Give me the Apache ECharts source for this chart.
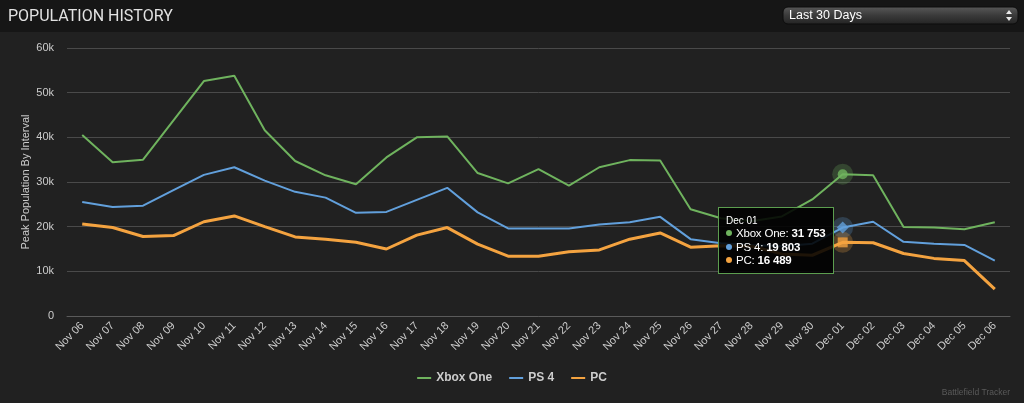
<!DOCTYPE html>
<html>
<head>
<meta charset="utf-8">
<script src="https://cdn.jsdelivr.net/npm/echarts@6/dist/echarts.min.js"></script>
<style>
html,body{margin:0;padding:0;background:#212121;}
#chart{width:1024px;height:403px;}
</style>
</head>
<body>
<div id="chart"></div>
<script>
const categories = ['Nov 06','Nov 07','Nov 08','Nov 09','Nov 10','Nov 11','Nov 12','Nov 13','Nov 14','Nov 15','Nov 16','Nov 17','Nov 18','Nov 19','Nov 20','Nov 21','Nov 22','Nov 23','Nov 24','Nov 25','Nov 26','Nov 27','Nov 28','Nov 29','Nov 30','Dec 01','Dec 02','Dec 03','Dec 04','Dec 05','Dec 06'];
const xboxOne = [40500,34400,35000,43800,52600,53800,41600,34700,31500,29500,35500,40000,40200,32000,29700,32900,29200,33300,34900,34800,23900,21900,21200,22300,26100,31753,31500,19900,19800,19400,21000];
const ps4 = [25500,24400,24700,28200,31600,33300,30300,27800,26500,23100,23300,26000,28700,23200,19600,19600,19600,20500,21000,22200,17200,16300,15900,15600,16200,19803,21100,16600,16200,15900,12400];
const pc = [20600,19800,17800,18000,21100,22400,20000,17700,17200,16500,15000,18100,19800,16100,13400,13400,14400,14800,17200,18600,15400,15700,15600,13900,13600,16489,16400,14000,12900,12400,6000];
const yTicks = [0,10000,20000,30000,40000,50000,60000];
const seriesNames = ['Xbox One','PS 4','PC'];
const colors = ['#6fb35e','#62a0dc','#f4a340'];
const halos = ['rgba(111,179,94,0.3)','rgba(98,160,220,0.3)','rgba(244,163,64,0.3)'];
const hoverIndex = 25;

const font = '"Liberation Sans", Arial, sans-serif';
const fmt = v => String(v).replace(/\B(?=(\d{3})+(?!\d))/g, ' ');

const chart = echarts.init(document.getElementById('chart'));
const allData = [xboxOne, ps4, pc];
const hoverSymbols = ['circle','diamond','rect'];
const hoverSizes = [10,12,10];

const series = [];
allData.forEach((d,i)=>{
  series.push({
    name: seriesNames[i], type:'line', data:d, symbol:'none',
    lineStyle:{color:colors[i], width: i===2?3:2}, itemStyle:{color:colors[i]},
    emphasis:{disabled:true}, z:2
  });
});
allData.forEach((d,i)=>{
  series.push({
    type:'scatter', data:[[categories[hoverIndex], d[hoverIndex]]],
    symbol:'circle', symbolSize:21, itemStyle:{color:halos[i]}, silent:true, z:3,
    emphasis:{disabled:true}, tooltip:{show:false}
  });
  series.push({
    type:'scatter', data:[[categories[hoverIndex], d[hoverIndex]]],
    symbol:hoverSymbols[i], symbolSize:hoverSizes[i], itemStyle:{color:colors[i]}, silent:true, z:4,
    emphasis:{disabled:true}, tooltip:{show:false}
  });
});

chart.setOption({
  animation:false,
  backgroundColor:'#212121',
  textStyle:{fontFamily:font},
  title:{text:'POPULATION HISTORY', left:3, top:4, textStyle:{color:'#e2e2e2', fontSize:16, fontWeight:'normal', fontFamily:'Roboto, "Liberation Sans", sans-serif'}},
  graphic:[
    {type:'rect', z:-1, shape:{x:0,y:0,width:1024,height:32}, style:{fill:'#161616'}},
    {type:'rect', shape:{x:783,y:7,width:235,height:17,r:5}, style:{fill:new echarts.graphic.LinearGradient(0,0,0,1,[{offset:0,color:'#5a5a5a'},{offset:0.5,color:'#3a3a3a'},{offset:1,color:'#232323'}]), stroke:'#0c0c0c', lineWidth:1}},
    {type:'text', left:789, top:9, style:{text:'Last 30 Days', fill:'#ffffff', font:'12.5px '+font}},
    {type:'polygon', shape:{points:[[1006,14],[1012,14],[1009,10]]}, style:{fill:'#e8e8e8'}},
    {type:'polygon', shape:{points:[[1006,17],[1012,17],[1009,21]]}, style:{fill:'#e8e8e8'}},
    {type:'text', right:14, top:388, style:{text:'Battlefield Tracker', fill:'#5a5a5a', font:'8.5px '+font}}
  ],
  legend:{
    data:seriesNames, left:'center', top:367, icon:'rect', itemWidth:14, itemHeight:2, itemGap:17,
    textStyle:{color:'#cccccc', fontSize:12, fontWeight:'bold', fontFamily:font}, selectedMode:false
  },
  grid:{left:67, right:14, top:48, bottom:87},
  tooltip:{
    trigger:'axis', triggerOn:'none', alwaysShowContent:true, showDelay:0, transitionDuration:0,
    axisPointer:{type:'none'},
    position:[718,207],
    backgroundColor:'rgba(0,0,0,0.88)', borderColor:'#5c9e4f', borderWidth:1, padding:[6,7,5,7],
    extraCssText:'border-radius:0;box-shadow:none;',
    textStyle:{color:'#ffffff', fontSize:11.5, fontFamily:font},
    formatter:function(params){
      const ps = params.filter(p=>p.seriesIndex<3);
      let s = '<div style="font-size:10px;line-height:13px;height:13px">'+ps[0].axisValue+'</div>';
      ps.forEach(p=>{
        s += '<div style="line-height:13.5px;height:13.5px;white-space:nowrap;letter-spacing:-0.2px"><span style="display:inline-block;width:6px;height:6px;border-radius:3px;background:'+colors[p.seriesIndex]+';margin-right:4px;vertical-align:1px"></span>'+p.seriesName+': <b>'+fmt(p.value)+'</b></div>';
      });
      return s;
    }
  },
  xAxis:{
    type:'category', data:categories, boundaryGap:true,
    axisLine:{lineStyle:{color:'#5a5a5a', width:1}},
    axisTick:{alignWithLabel:true, length:7, lineStyle:{color:'#666'}},
    axisLabel:{rotate:45, color:'#cccccc', fontSize:11, margin:8, interval:0, fontFamily:font},
    splitLine:{show:false}
  },
  yAxis:{
    type:'value', min:yTicks[0], max:yTicks[yTicks.length-1], interval:10000,
    name:'Peak Population By Interval', nameLocation:'middle', nameGap:36, nameRotate:90, nameMoveOverlap:false,
    nameTextStyle:{color:'#cccccc', fontSize:11, fontFamily:font},
    axisLine:{show:false}, axisTick:{show:false},
    axisLabel:{color:'#cccccc', fontSize:11, margin:13, formatter:v=>v===0?'0':(v/1000)+'k'},
    splitLine:{lineStyle:{color:'#4a4a4a', width:1}}
  },
  series:series
});
chart.dispatchAction({type:'showTip', seriesIndex:0, dataIndex:hoverIndex});
</script>
</body>
</html>
